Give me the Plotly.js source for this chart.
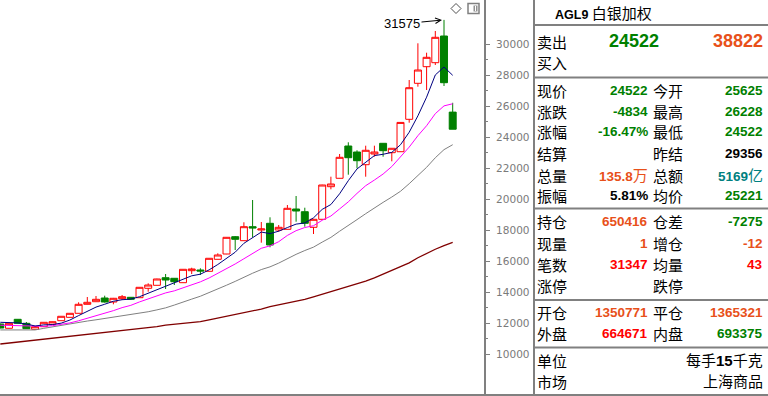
<!DOCTYPE html>
<html><head><meta charset="utf-8">
<script src="https://cdn.plot.ly/plotly-3.0.1.min.js"></script>
<style>html,body{margin:0;padding:0;background:#fff}#chart{width:768px;height:396px}</style>
</head><body><div id="chart"></div>
<script>
// ---- candle data ----
const opens  = [11959,11682,12262,12004,11617,11785,11940,12172,12389,12649,13229,13397,13636,13378,13591,13681,13656,14261,14455,14945,14907,14623,15397,15442,15358,16132,16474,17590,17332,18235,18022,18454,18022,18067,19376,19202,18196,18712,20815,21357,23440,23053,22234,22924,23614,23008,23072,25162,27484,28555,28813,30535,25625];
const highs  = [11990,12010,12270,12088,11800,12075,12115,12460,12655,13358,13700,13765,13785,13640,13830,13690,14330,14584,14880,15184,14915,15495,15590,15552,16205,16519,17560,17635,18518,19957,18538,18841,18345,19634,20215,19460,18720,20940,21460,22924,23679,23163,23460,23460,23630,23300,24970,27697,30064,29458,30858,31575,26228];
const lows   = [11680,11670,11990,11640,11600,11780,11930,12165,12380,12640,13220,13390,13340,13229,13507,13545,13650,14042,14450,14216,14474,14615,15184,15120,15350,16125,16465,16732,17325,17551,17203,16906,17912,18060,18557,18235,17764,18705,20647,21350,21589,21997,21460,22750,22750,22453,23065,24943,27265,27052,28665,27310,24522];
const closes = [11701,12004,12004,11656,11785,12068,12107,12456,12649,13229,13358,13552,13378,13617,13720,13552,14326,14474,14862,14797,14687,15487,15507,15377,16197,16410,17551,17422,18235,18151,18087,17054,18196,19421,19247,18454,18712,20924,20989,22711,22685,22492,23163,23053,23137,23292,24961,27200,28342,29161,30451,27523,24522];
// ---- moving-average lines ----
const ma5  = [12069,12069,12030,11960,11830,11903,11924,12014,12213,12502,12760,13049,13233,13427,13525,13564,13719,13938,14187,14402,14629,14861,15068,15171,15451,15796,16208,16591,17163,17554,17889,17790,17945,18182,18401,18474,18806,19352,19665,20358,21204,21960,22408,22821,22906,23027,23521,24329,25386,26591,28023,28535,28000];
const ma10 = [11880,11870,11850,11820,11800,11810,11850,11920,12030,12166,12332,12487,12624,12820,13014,13162,13384,13586,13807,13964,14097,14290,14503,14679,14927,15213,15535,15830,16167,16503,16843,16999,17268,17673,17978,18182,18298,18649,18924,19380,19839,20383,20880,21243,21632,22116,22741,23369,24104,24749,25525,26028,26165];
const ma20 = [11575,11575,11575,11575,11575,11680,11780,11860,11990,12070,12150,12230,12310,12410,12500,12570,12650,12750,12870,13000,13180,13389,13564,13750,13971,14188,14460,14708,14987,15234,15470,15645,15886,16176,16453,16698,16917,17240,17546,17942,18341,18691,19074,19458,19805,20149,20520,21009,21514,22065,22682,23206,23523];
const ma60 = [10669,10730,10790,10840,10895,10950,11020,11090,11160,11220,11280,11340,11400,11450,11500,11560,11630,11710,11790,11880,11940,12000,12050,12110,12220,12340,12460,12570,12680,12780,12920,13080,13190,13310,13430,13540,13710,13880,14030,14190,14370,14540,14730,14930,15150,15420,15660,15900,16230,16530,16780,17020,17228];
const yTicks = [10000,12000,14000,16000,18000,20000,22000,24000,26000,28000,30000];
const yMinorTicks = [11000,13000,15000,17000,19000,21000,23000,25000,27000,29000];

// ---- quote panel text ----
const symbolCode = 'AGL9', symbolName = '白银加权';
const sellLabel = '卖出', sellPrice = '24522', buyLabel = '买入', buyPrice = '38822';
const leftLabels  = ['现价','涨跌','涨幅','结算','总量','振幅','持仓','现量','笔数','涨停','开仓','外盘'];
const leftValues  = ['24522','-4834','-16.47%','','135.8','5.81%','650416','1','31347','','1350771','664671'];
const leftUnits   = ['','','','','万','','','','','','',''];
const rightLabels = ['今开','最高','最低','昨结','总额','均价','仓差','增仓','均量','跌停','平仓','内盘'];
const rightValues = ['25625','26228','24522','29356','5169','25221','-7275','-12','43','','1365321','693375'];
const rightUnits  = ['','','','','亿','','','','','','',''];
const footLabels  = ['单位','市场'];
const footValues  = ['每手<b>15</b>千克','上海商品'];

const G='#008000', O='#e8501a', R='#ff0000', T='#008080', K='#000000';
const leftColors  = [G,G,G,K,O,K,O,O,R,K,O,R];
const rightColors = [G,G,G,K,T,G,G,O,R,K,O,G];

// ---- layout helpers (pixel -> paper) ----
const W = 768, H = 396;
const px = x => x / W, py = y => 1 - y / H;
const rowY = [91,111.5,131.5,154,175,195,222,243,264,285,312,333];
const footY = [360.5,381.5];

const idx = opens.map((_, i) => i);
const ppx = 8.7;            // px per candle
const plotW = 484, plotH = 395;
const unitsPerPx = 64.5;    // price units per pixel
const yTop = 32857, yBot = yTop - plotH * unitsPerPx;

const traces = [
  {type:'candlestick', x: idx, open: opens, high: highs, low: lows, close: closes,
   increasing:{line:{color:'#ff0000', width:1}, fillcolor:'#ffffff'},
   decreasing:{line:{color:'#008000', width:1}, fillcolor:'#008000'},
   whiskerwidth:0, hoverinfo:'skip', showlegend:false},
  {type:'scatter', mode:'lines', x: idx, y: ma60, line:{color:'#800000', width:1.3}, hoverinfo:'skip', showlegend:false},
  {type:'scatter', mode:'lines', x: idx, y: ma20, line:{color:'#808080', width:1}, hoverinfo:'skip', showlegend:false},
  {type:'scatter', mode:'lines', x: idx, y: ma10, line:{color:'#ff00ff', width:1}, hoverinfo:'skip', showlegend:false},
  {type:'scatter', mode:'lines', x: idx, y: ma5, line:{color:'#000080', width:1}, hoverinfo:'skip', showlegend:false}
];

const cjk = 'Noto Sans CJK SC';
const num = 'Liberation Sans, Noto Sans CJK SC';
const ann = [];
function txt(x, y, text, anchor, font){
  ann.push({xref:'paper', yref:'paper', x:px(x), y:py(y), text:text, showarrow:false,
            xanchor:anchor, yanchor:'middle', font:font, borderpad:0});
}
txt(554, 13.5, '<b>'+symbolCode+'</b> <span style="font-size:15px">'+symbolName+'</span>', 'left', {family:num, size:12.5, color:K});
txt(536, 41, sellLabel, 'left', {family:cjk, size:15, color:K});
txt(536, 62, buyLabel, 'left', {family:cjk, size:15, color:K});
txt(660, 41, '<b>'+sellPrice+'</b>', 'right', {family:num, size:18, color:G});
txt(764, 41, '<b>'+buyPrice+'</b>', 'right', {family:num, size:18, color:O});
leftLabels.forEach((l, i) => {
  txt(536, rowY[i], l, 'left', {family:cjk, size:15, color:K});
  if (leftValues[i]) txt(648.5, rowY[i], '<b>'+leftValues[i]+'</b>' + (leftUnits[i] ? '<span style="font-size:15px">'+leftUnits[i]+'</span>' : ''), 'right', {family:num, size:13.5, color:leftColors[i]});
  txt(652, rowY[i], rightLabels[i], 'left', {family:cjk, size:15, color:K});
  if (rightValues[i]) txt(764, rowY[i], '<b>'+rightValues[i]+'</b>' + (rightUnits[i] ? '<span style="font-size:15px">'+rightUnits[i]+'</span>' : ''), 'right', {family:num, size:13.5, color:rightColors[i]});
});
footLabels.forEach((l, i) => {
  txt(536, footY[i], l, 'left', {family:cjk, size:15, color:K});
  txt(764, footY[i], footValues[i], 'right', {family:num, size:15, color:K});
});

// peak annotation anchored to the highest high
const peakIdx = highs.indexOf(Math.max(...highs));
ann.push({xref:'x', yref:'y', x: peakIdx, y: highs[peakIdx], text: String(highs[peakIdx]),
  showarrow:true, arrowhead:5, arrowsize:1.1, arrowwidth:1, arrowcolor:'#000', ax:-42, ay:4, standoff:2,
  font:{family:'Liberation Sans', size:13, color:'#000'}});

const lineC = '#808080';
const shapes = [
  {type:'line', xref:'paper', yref:'paper', x0:0, x1:1, y0:py(395), y1:py(395), line:{color:lineC, width:2}},
  {type:'line', xref:'paper', yref:'paper', x0:px(534), x1:px(534), y0:py(0), y1:py(395), line:{color:lineC, width:2}},
];
[25, 77.5, 208.5, 300, 347.5].forEach(y => shapes.push({type:'line', xref:'paper', yref:'paper', x0:px(534), x1:1, y0:py(y), y1:py(y), line:{color:lineC, width:2}}));
// small toolbar icons at top-right of the chart
shapes.push({type:'path', xref:'paper', yref:'paper', path:`M ${px(451)} ${py(8.5)} L ${px(456)} ${py(3.5)} L ${px(461)} ${py(8.5)} L ${px(456)} ${py(13.5)} Z`, line:{color:'#505050', width:1}});
shapes.push({type:'rect', xref:'paper', yref:'paper', x0:px(468), x1:px(479), y0:py(3.5), y1:py(13.5), line:{color:'#808080', width:1.5}, fillcolor:'#ffffff'});
shapes.push({type:'rect', xref:'paper', yref:'paper', x0:px(473.5), x1:px(477.5), y0:py(5.5), y1:py(11.5), line:{width:0}, fillcolor:'#909090'});
shapes.push({type:'line', xref:'paper', yref:'paper', x0:px(475.5), x1:px(475.5), y0:py(6), y1:py(11), line:{color:'#ffffff', width:1}});

const layout = {
  width:W, height:H, margin:{l:0, r:0, t:0, b:0},
  paper_bgcolor:'#ffffff', plot_bgcolor:'#ffffff',
  showlegend:false, boxgap:0.2, boxgroupgap:0, dragmode:false,
  xaxis:{domain:[0, plotW/W], range:[-0.3/ppx, (plotW-0.3)/ppx], visible:false, fixedrange:true,
         rangeslider:{visible:false}},
  yaxis:{domain:[1 - plotH/H, 1], range:[yBot, yTop], side:'right', fixedrange:true,
         showgrid:false, zeroline:false, showline:true, linecolor:lineC, linewidth:2,
         tickmode:'array', tickvals:yTicks, ticktext:yTicks.map(String),
         ticks:'outside', ticklen:4, tickwidth:1, tickcolor:lineC, ticklabelstandoff:4,
         tickfont:{family:'DejaVu Sans', size:10.5, color:'#7a7a7a'},
         minor:{tickmode:'array', tickvals:yMinorTicks, ticks:'outside', ticklen:2, tickcolor:lineC, showgrid:false}},
  annotations: ann, shapes: shapes
};
Plotly.newPlot('chart', traces, layout, {displayModeBar:false, staticPlot:true});
</script></body></html>
